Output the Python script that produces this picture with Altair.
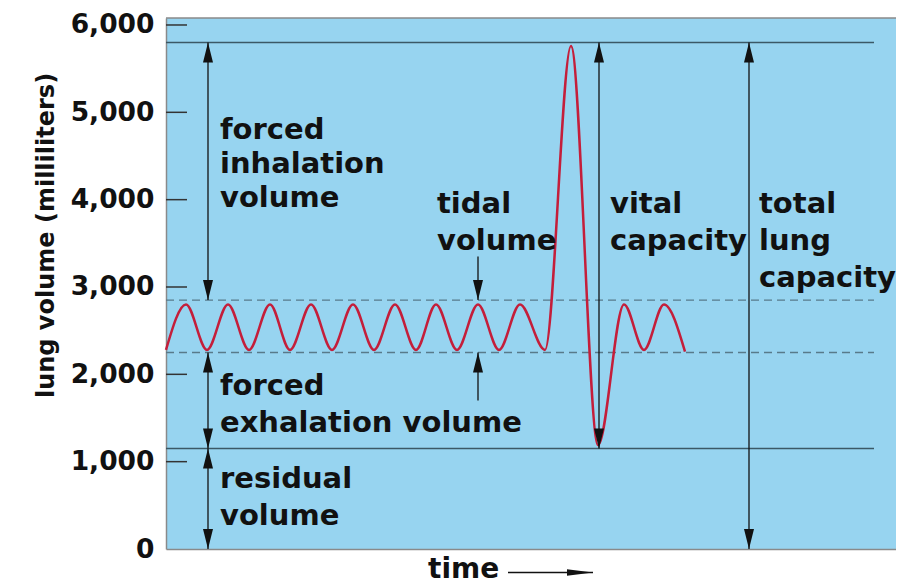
import altair as alt
import pandas as pd

# ---------------- data ----------------
# spirogram trace: extremes of each breath (time in arbitrary units, volume in ml)
wave_t = [0, 2.0, 4.1, 6.2, 8.3, 10.4, 12.4, 14.5, 16.6, 18.7, 20.8, 22.9, 25.0,
          27.0, 29.1, 31.2, 33.3, 35.4, 37.9, 40.5, 43.2, 45.8, 47.8, 49.8, 51.9]
wave_v = [2280, 2800, 2280, 2800, 2280, 2800, 2280, 2800, 2280, 2800, 2280, 2800, 2280,
          2800, 2280, 2800, 2280, 2800, 2280, 5760, 1190, 2800, 2280, 2800, 2260]

T_MAX = 73
Y_MAX = 6080
tick_values = [0, 1000, 2000, 3000, 4000, 5000, 6000]
inner_ticks = [1000, 2000, 3000, 4000, 5000, 6000]

solid_levels = [5800, 1150]
dashed_levels = [2850, 2250]
level_start = 0
level_end = 70.8

# vertical measurement arrows
arrow_x = [4.2, 4.2, 4.2, 31.2, 31.2, 43.3, 58.3]
arrow_top = [5800, 2250, 1150, 3350, 2250, 5800, 5800]
arrow_bottom = [2850, 1150, 0, 2850, 1700, 1150, 0]
head_up = [True, True, True, False, True, True, True]
head_down = [True, True, True, True, False, True, True]

# annotation text (one row per printed line)
label_text = ["forced", "inhalation", "volume",
              "tidal", "volume",
              "vital", "capacity",
              "total", "lung", "capacity",
              "forced", "exhalation volume",
              "residual", "volume"]
label_t = [5.4, 5.4, 5.4, 27.1, 27.1, 44.4, 44.4, 59.3, 59.3, 59.3, 5.4, 5.4, 5.4, 5.4]
label_v = [4700, 4300, 3920, 3850, 3420, 3850, 3420, 3850, 3420, 3000, 1760, 1340, 700, 275]

# "time" caption and its arrow below the axis
time_label = ["time"]
time_label_t = [26.2]
time_label_v = [-330]
time_arrow_t = [34.2]
time_arrow_t2 = [42.7]
time_arrow_v = [-270]

# ---------------- styling ----------------
BG = "#97d4f0"
CURVE = "#c41e3a"
LEVEL = "#3b5866"
DASH = "#587a8a"
INK = "#111111"
FRAME = "#8a8a8a"
FONT = "DejaVu Sans"
UP = "M0,0L0.5,2L-0.5,2Z"
DOWN = "M0,0L0.5,-2L-0.5,-2Z"
RIGHT = "M0,0L-2,-0.25L-2,0.25Z"

xs = alt.Scale(domain=[0, T_MAX], nice=False, zero=False)
ys = alt.Scale(domain=[0, Y_MAX], nice=False)

x_axis = alt.Axis(labels=False, ticks=False, title=None, grid=False,
                  domainColor=FRAME, domainWidth=1.5)
y_axis = alt.Axis(
    values=tick_values, format=",d", grid=False, ticks=False,
    labelFont=FONT, labelFontWeight="bold", labelFontSize=26.5,
    labelColor=INK, labelPadding=12,
    domainColor=FRAME, domainWidth=1.5,
    title="lung volume (milliliters)", titleFont=FONT, titleFontWeight="bold",
    titleFontSize=24, titleColor=INK, titleX=-113, titleY=217, titleAngle=270,
    titleAlign="center", titleBaseline="alphabetic")


def X(f):
    return alt.X(f, type="quantitative", scale=xs, axis=x_axis)


def Y(f):
    return alt.Y(f, type="quantitative", scale=ys, axis=y_axis)


wave_df = pd.DataFrame({"t": wave_t, "v": wave_v})
solid_df = pd.DataFrame({"v": solid_levels, "x0": level_start, "x1": level_end})
dashed_df = pd.DataFrame({"v": dashed_levels, "x0": level_start, "x1": level_end})
tick_df = pd.DataFrame({"v": inner_ticks})
arrow_df = pd.DataFrame({"x": arrow_x, "top": arrow_top, "bottom": arrow_bottom,
                         "up": head_up, "down": head_down})
up_df = arrow_df[arrow_df["up"]][["x", "top"]]
down_df = arrow_df[arrow_df["down"]][["x", "bottom"]]
label_df = pd.DataFrame({"t": label_t, "v": label_v, "text": label_text})
time_df = pd.DataFrame({"t": time_label_t, "v": time_label_v, "text": time_label})
tarrow_df = pd.DataFrame({"t": time_arrow_t, "t2": time_arrow_t2, "v": time_arrow_v})
top_df = pd.DataFrame({"v": [Y_MAX], "x0": [0], "x1": [T_MAX]})

top_border = alt.Chart(top_df).mark_rule(color=FRAME, strokeWidth=1.5).encode(
    x=X("x0"), x2="x1", y=Y("v"))

solid = alt.Chart(solid_df).mark_rule(color=LEVEL, strokeWidth=1.4).encode(
    x=X("x0"), x2="x1", y=Y("v"))

dashed = alt.Chart(dashed_df).mark_rule(color=DASH, strokeWidth=1.4,
                                        strokeDash=[8, 5]).encode(
    x=X("x0"), x2="x1", y=Y("v"))

ticks = alt.Chart(tick_df).mark_rule(color="#333333", strokeWidth=1.5).encode(
    x=alt.value(0), x2=alt.value(21), y=Y("v"))

wave = alt.Chart(wave_df).mark_line(color=CURVE, strokeWidth=2.5,
                                    interpolate="monotone").encode(
    x=X("t"), y=Y("v"))

shafts = alt.Chart(arrow_df).mark_rule(color=INK, strokeWidth=1.3).encode(
    x=X("x"), y=Y("top"), y2="bottom")

heads_up = alt.Chart(up_df).mark_point(shape=UP, size=400, filled=True, color=INK,
                                       opacity=1, strokeWidth=0).encode(
    x=X("x"), y=Y("top"))

heads_down = alt.Chart(down_df).mark_point(shape=DOWN, size=400, filled=True, color=INK,
                                           opacity=1, strokeWidth=0).encode(
    x=X("x"), y=Y("bottom"))

labels = alt.Chart(label_df).mark_text(align="left", baseline="alphabetic", font=FONT,
                                       fontWeight="bold", fontSize=29, color=INK).encode(
    x=X("t"), y=Y("v"), text="text:N")

time_text = alt.Chart(time_df).mark_text(align="left", baseline="alphabetic", font=FONT,
                                         fontWeight="bold", fontSize=28, color=INK).encode(
    x=X("t"), y=Y("v"), text="text:N")

time_shaft = alt.Chart(tarrow_df).mark_rule(color=INK, strokeWidth=1.5).encode(
    x=X("t"), x2="t2", y=Y("v"))

time_head = alt.Chart(tarrow_df).mark_point(shape=RIGHT, size=676, filled=True, color=INK,
                                            opacity=1, strokeWidth=0).encode(
    x=X("t2"), y=Y("v"))

chart = alt.layer(
    top_border, dashed, solid, ticks, wave, shafts,
    heads_up, heads_down, labels, time_text, time_shaft, time_head
).properties(
    width=730, height=531,
    autosize=alt.AutoSizeParams(type="none"),
    padding={"left": 158, "top": 10, "right": 0, "bottom": 40},
    background="white",
).configure_view(strokeWidth=0, fill=BG)

chart.save("out.html", embed_options={"renderer": "svg", "actions": False})
